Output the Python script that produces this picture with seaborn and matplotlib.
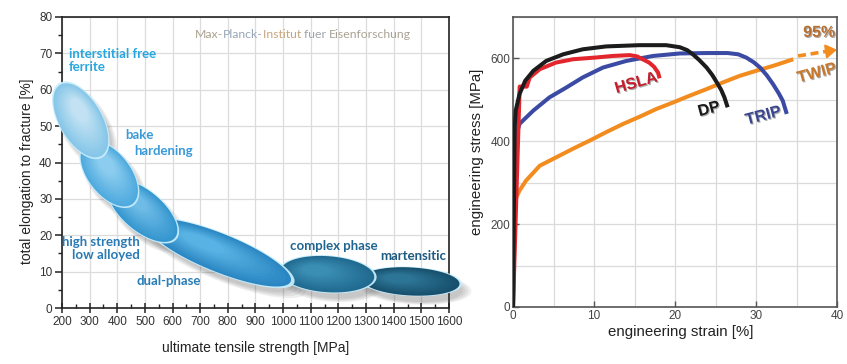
import numpy as np
import pandas as pd
import matplotlib
matplotlib.use("Agg")
import matplotlib.pyplot as plt
import matplotlib.patheffects as pe
from matplotlib.colors import to_rgb
from matplotlib.ticker import MultipleLocator
import seaborn as sns

# ---------------- data: left panel (steel classes) ----------------
steel_classes = ["interstitial free\nferrite", "bake\nhardening", "high strength\nlow alloyed",
                 "dual-phase", "complex phase", "martensitic"]
uts_center = [268, 371, 492, 769, 1160, 1461]          # MPa
elong_center = [51.6, 36.9, 26.7, 15.2, 9.3, 7.3]      # %
uts_ticks = [200, 300, 400, 500, 600, 700, 800, 900, 1000, 1100, 1200, 1300, 1400, 1500, 1600]
elong_ticks = [0, 10, 20, 30, 40, 50, 60, 70, 80]

# ---------------- data: right panel (stress-strain curves) ----------------
hsla_strain = [0, 0.82, 1.7, 2.06, 3.3, 5.3, 7.4, 10.1, 12.3, 14.4, 15.3, 16.0, 16.8, 17.4, 17.9, 18.1]
hsla_stress = [0, 532, 532, 554, 574, 590, 598, 602, 606, 608, 605, 598, 590, 580, 566, 552]
dp_strain = [0, 0.2, 0.33, 0.8, 1.5, 2.5, 4.1, 6.2, 8.6, 11.5, 15.6, 18.9, 20.6, 21.5, 22.2, 23.0, 23.9, 24.6, 25.1, 25.7, 26.1, 26.5]
dp_stress = [0, 430, 474, 514, 546, 570, 594, 610, 622, 629, 632, 632, 627, 620, 610, 596, 578, 560, 544, 524, 506, 482]
trip_strain = [0, 0.2, 0.8, 2.5, 4.5, 6.6, 8.6, 11.1, 14.0, 17.3, 20.6, 23.9, 26.5, 27.8, 28.8, 29.7, 30.5, 31.3, 32.1, 32.8, 33.3, 33.8]
trip_stress = [0, 402, 442, 474, 506, 530, 554, 578, 594, 606, 612, 613, 613, 610, 602, 591, 578, 560, 538, 516, 498, 466]
twip_strain = [0, 0.2, 0.8, 1.6, 3.3, 5.3, 7.4, 9.5, 11.5, 13.6, 15.6, 17.7, 19.8, 21.8, 23.9, 25.9, 28.0, 30.0, 32.1, 34.6]
twip_stress = [0, 257, 281, 305, 341, 361, 382, 402, 422, 442, 459, 478, 494, 510, 526, 542, 558, 570, 582, 598]
twip_ext_strain = [35.2, 40.0]
twip_ext_stress = [606, 621]
strain_ticks = [0, 10, 20, 30, 40]
stress_ticks = [0, 200, 400, 600]

curve_names = ["HSLA", "DP", "TRIP", "TWIP"]
label_strain = [15.2, 24.2, 30.9, 37.5]
label_stress = [541, 478, 462, 565]

# ---------------- styles ----------------
ell_a = [41, 38, 42, 77, 47, 49]       # px semi-major
ell_b = [21, 21, 20, 19, 18, 14]       # px semi-minor
ell_ang = [-60, -52, -40, -22, -4, -3]
ell_dark = ["#86c6e8", "#4eaade", "#3596cf", "#2a86c2", "#20698f", "#174f6c"]
ell_light = ["#c2e2f3", "#8ccdef", "#6dbbe6", "#58b2e4", "#3a8db3", "#2d7596"]
label_colors = ["#27a6df", "#3a9ad8", "#2a7ab5", "#2a7db5", "#1f6590", "#1d5a80"]
curve_colors = {"HSLA": "#e3262e", "DP": "#1c1c1c", "TRIP": "#3b4aa2", "TWIP": "#f28c1e"}
curve_label_colors = ["#c41e2c", "#1a1a1a", "#3a4690", "#c8782a"]

sns.set_theme(style="white")
plt.rcParams["font.family"] = ["Liberation Sans", "DejaVu Sans"]

fig = plt.figure(figsize=(8.47, 3.64), dpi=100)
ax1 = fig.add_axes([0.0732, 0.1538, 0.4569, 0.7995])
ax2 = fig.add_axes([0.6057, 0.1566, 0.3825, 0.7967])

# ---------------- left panel ----------------
ax1.set_xlim(200, 1600)
ax1.set_ylim(0, 80)
ax1.set_autoscale_on(False)
ax1.set_xticks(uts_ticks)
ax1.set_yticks(elong_ticks)
ax1.xaxis.set_minor_locator(MultipleLocator(50))
ax1.yaxis.set_minor_locator(MultipleLocator(5))
ax1.grid(True, which="major", color="#dcdcdc", lw=0.9)
ax1.set_axisbelow(True)
for s in ax1.spines.values():
    s.set_color("#222222")
    s.set_linewidth(1.2)
ax1.tick_params(axis="x", which="major", direction="inout", length=7, width=1.1, color="#222",
                labelsize=8.5, labelcolor="#333", pad=2, bottom=True)
ax1.tick_params(axis="x", which="minor", direction="in", length=3, width=1.0, color="#222", bottom=True)
ax1.tick_params(axis="y", which="major", direction="out", length=5, width=1.1, color="#222",
                labelsize=8.5, labelcolor="#333", pad=2, left=True)
ax1.tick_params(axis="y", which="minor", direction="out", length=3, width=1.0, color="#222", left=True)
ax1.set_xlabel("ultimate tensile strength [MPa]", fontsize=10, color="#222")
ax1.set_ylabel("total elongation to fracture [%]", fontsize=10, color="#222")
ax1.xaxis.set_label_coords(0.50, -0.113)
ax1.yaxis.set_label_coords(-0.072, 0.47)

k = fig.dpi / 100.0


def ell_poly(ax, cx, cy, a, b, ang, s=1.0, du=0.0, dv=0.0, ox=0.0, oy=0.0):
    t = np.linspace(0, 2 * np.pi, 160)
    u = du + s * a * np.cos(t)
    v = dv + s * b * np.sin(t)
    th = np.deg2rad(ang)
    px = u * np.cos(th) - v * np.sin(th)
    py = u * np.sin(th) + v * np.cos(th)
    c = ax.transData.transform((cx, cy))
    pts = np.column_stack([c[0] + (px + ox) * k, c[1] + (py + oy) * k])
    return ax.transData.inverted().transform(pts)


def mix(c1, c2, f):
    a = np.array(to_rgb(c1))
    b = np.array(to_rgb(c2))
    return tuple(a + (b - a) * f)


# shadows
for i in range(len(uts_center)):
    for j, sc in enumerate([1.14, 1.08, 1.02, 0.96]):
        p = ell_poly(ax1, uts_center[i], elong_center[i], ell_a[i], ell_b[i], ell_ang[i],
                     s=sc, ox=5, oy=-7)
        ax1.fill(p[:, 0], p[:, 1], color="#4a4a4a", alpha=0.085, lw=0, zorder=3, clip_on=False)

# ellipses, right-most first
order = list(range(len(uts_center)))[::-1]
for n, i in enumerate(order):
    z = 4 + n
    cx, cy, a, b, ang = uts_center[i], elong_center[i], ell_a[i], ell_b[i], ell_ang[i]
    rim = ell_poly(ax1, cx, cy, a, b, ang, s=1.05)
    ax1.fill(rim[:, 0], rim[:, 1], color="#c6ecfb", alpha=0.95, lw=0, zorder=z, clip_on=False)
    steps = 14
    for st in range(steps):
        f = st / (steps - 1)
        sc = 1.0 - 0.7 * f
        p = ell_poly(ax1, cx, cy, a, b, ang, s=sc, du=-0.35 * a * (1 - sc), dv=0.25 * b * (1 - sc))
        ax1.fill(p[:, 0], p[:, 1], color=mix(ell_dark[i], ell_light[i], f), lw=0, zorder=z, clip_on=False)

# labels
lab_kw = dict(fontsize=9.5, fontweight="bold", family=["Lato", "DejaVu Sans"], zorder=20)
ax1.text(226, 71.5, "interstitial free\nferrite", color=label_colors[0], ha="left", va="top",
         linespacing=1.15, **lab_kw)
ax1.text(428, 47.5, "bake", color=label_colors[1], ha="left", va="center", **lab_kw)
ax1.text(460, 43.3, "hardening", color=label_colors[1], ha="left", va="center", **lab_kw)
ax1.text(483, 16.4, steel_classes[2], color=label_colors[2], ha="right", va="center",
         multialignment="right", linespacing=1.15, **lab_kw)
ax1.text(470, 7.3, steel_classes[3], color=label_colors[3], ha="left", va="center", **lab_kw)
ax1.text(1025, 17.0, steel_classes[4], color=label_colors[4], ha="left", va="center", **lab_kw)
ax1.text(1353, 14.3, steel_classes[5], color=label_colors[5], ha="left", va="center", **lab_kw)

# watermark
wm_parts = ["Max-", "Planck-", "Institut ", "fuer ", "Eisenforschung"]
wm_cols = ["#a9a08e", "#98a6b6", "#c7a67d", "#9ea4ab", "#aaa395"]
wm_kw = dict(fontsize=8.8, family=["Lato", "DejaVu Sans"], zorder=20)
prev = ax1.text(681, 75.3, wm_parts[0], color=wm_cols[0], ha="left", va="center", **wm_kw)
for part, col in zip(wm_parts[1:], wm_cols[1:]):
    prev = ax1.annotate(part, xy=(1, 0), xycoords=prev, ha="left", va="bottom", color=col, **wm_kw)

# ---------------- right panel ----------------
frames = []
for name, xs, ys in [("HSLA", hsla_strain, hsla_stress), ("DP", dp_strain, dp_stress),
                     ("TRIP", trip_strain, trip_stress), ("TWIP", twip_strain, twip_stress)]:
    frames.append(pd.DataFrame({"strain": xs, "stress": ys, "steel": name}))
df = pd.concat(frames, ignore_index=True)

sns.lineplot(data=df, x="strain", y="stress", hue="steel", palette=curve_colors,
             hue_order=["TWIP", "TRIP", "HSLA", "DP"], sort=False, estimator=None,
             lw=2.9, legend=False, ax=ax2, zorder=5)
for ln in ax2.lines:
    ln.set_solid_capstyle("butt")
    ln.set_solid_joinstyle("round")

ax2.plot(twip_ext_strain[:1] + [twip_ext_strain[1] - 0.8],
         twip_ext_stress[:1] + [twip_ext_stress[1] - 2.4],
         color=curve_colors["TWIP"], lw=2.6, ls=(0, (2.2, 1.3)), clip_on=False, zorder=6)
ax2.annotate("", xy=(twip_ext_strain[1], twip_ext_stress[1]),
             xytext=(twip_ext_strain[1] - 1.0, twip_ext_stress[1] - 3.0),
             arrowprops=dict(arrowstyle="-|>,head_length=0.55,head_width=0.35",
                             color=curve_colors["TWIP"], lw=1.5, shrinkA=0, shrinkB=0),
             annotation_clip=False, zorder=6)

ax2.set_xlim(0, 40)
ax2.set_ylim(0, 700)
ax2.set_xticks(strain_ticks)
ax2.set_yticks(stress_ticks)
ax2.xaxis.set_minor_locator(MultipleLocator(5))
ax2.yaxis.set_minor_locator(MultipleLocator(100))
ax2.grid(True, which="both", color="#dadada", lw=0.9)
ax2.set_axisbelow(True)
for s in ax2.spines.values():
    s.set_color("#555555")
    s.set_linewidth(1.2)
ax2.tick_params(axis="both", which="major", direction="in", length=4, width=1.0, color="#555",
                labelsize=8.5, labelcolor="#444", pad=2, bottom=True, left=True)
ax2.tick_params(axis="both", which="minor", length=0)
ax2.set_xlabel("engineering strain [%]", fontsize=10.8, color="#222")
ax2.set_ylabel("engineering stress [MPa]", fontsize=10.8, color="#222")
ax2.xaxis.set_label_coords(0.518, -0.062)
ax2.yaxis.set_label_coords(-0.09, 0.534)

shadow = [pe.withSimplePatchShadow(offset=(0.8, -0.8), shadow_rgbFace="#444444", alpha=0.45)]
rots = [16, 15, 15, 15]
for name, xs, ys, col, r in zip(curve_names, label_strain, label_stress, curve_label_colors, rots):
    ax2.text(xs, ys, name, color=col, fontsize=11.5, fontweight="bold", rotation=r,
             ha="center", va="center", rotation_mode="anchor", zorder=10,
             path_effects=shadow, clip_on=False)
ax2.text(37.8, 663, "95%", color="#b87030", fontsize=11.5, fontweight="bold",
         ha="center", va="center", zorder=10, path_effects=shadow, clip_on=False)

fig.savefig("out.png", dpi=100)
